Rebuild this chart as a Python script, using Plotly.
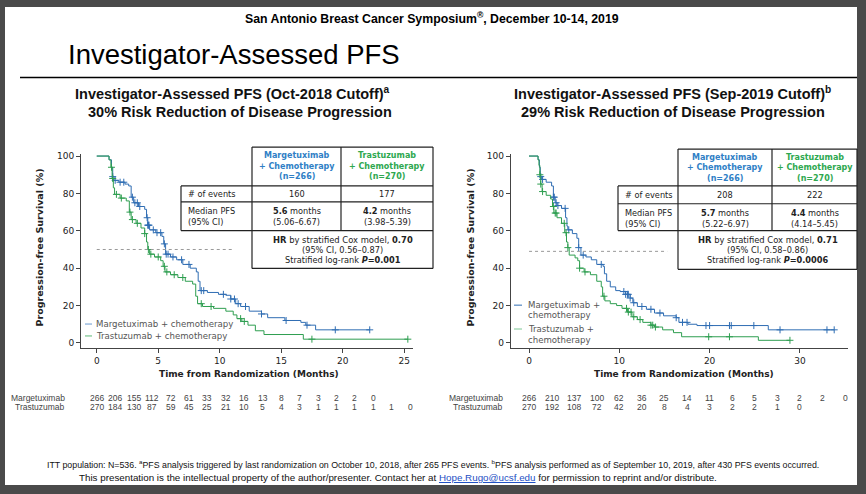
import bisect
import plotly.graph_objects as go

W, H = 866, 494

# ---- data: Oct-2018 cutoff (left) ----
m18_t = [0, 1.0, 1.2, 1.3, 1.4, 1.8, 2.3, 2.6, 2.8, 3.0, 3.4, 3.9, 4.05, 4.15, 4.3, 4.8, 5.3, 5.45,
         5.6, 6.0, 6.5, 7.0, 7.6, 8.1, 8.25, 8.4, 9.0, 9.9, 10.5, 10.9, 11.3, 11.7, 12.4, 13.4, 13.9,
         15.3, 16.6, 17.0, 17.8]
m18_s = [100, 98, 94, 89, 87, 86, 85, 84, 78, 75, 73, 71.5, 67, 63, 60.5, 59, 57, 53,
         47.5, 46, 44.5, 42, 40, 38, 33, 28, 27, 26, 25.5, 23.5, 21, 19.5, 17, 15.5, 13.5,
         12, 11, 9.5, 7]
m18_end = 22.2
m18_cens = [1.3, 1.5, 1.9, 2.2, 2.9, 3.1, 3.3, 3.5, 4.1, 4.15, 4.2, 4.25, 4.6, 4.9, 5.2, 5.5, 5.65,
            5.8, 6.2, 6.9, 7.5, 8.5, 8.7, 10.3, 10.9, 11.2, 11.5, 12.1, 13.4, 15.4, 17.1, 19.4, 22.2]

t18_t = [0, 1.0, 1.15, 1.25, 1.35, 1.45, 1.9, 2.4, 2.65, 2.8, 3.2, 3.6, 3.9, 4.05, 4.15, 4.3, 4.7,
         5.2, 5.4, 5.55, 6.0, 6.6, 7.2, 7.8, 8.05, 8.2, 8.6, 9.5, 10.5, 11.1, 11.4, 11.8, 12.3, 12.9,
         13.6, 16.8]
t18_s = [100, 98, 94, 88, 83, 79.5, 77.5, 76, 70, 66, 64, 61.5, 58.5, 54, 50, 47.5, 46,
         44, 41, 38, 36.5, 35, 33, 31.5, 25, 21, 19.5, 18.5, 17, 15, 13, 11.5, 9.5, 6.5,
         4.5, 2]
t18_end = 25.3
t18_cens = [1.2, 1.3, 1.6, 2.0, 2.7, 2.9, 3.3, 3.9, 4.2, 4.4, 5.0, 5.5, 5.7, 6.3, 7.0, 8.5, 9.3,
            11.7, 12.0, 17.5, 25.3]

# ---- data: Sep-2019 cutoff (right) ----
m19_t = [0, 1.0, 1.15, 1.25, 1.4, 1.9, 2.5, 2.7, 2.9, 3.1, 3.6, 4.05, 4.2, 4.3, 4.8, 5.3, 5.5,
         5.75, 6.3, 6.9, 7.5, 8.2, 8.35, 8.6, 9.0, 9.6, 10.1, 10.7, 11.2, 11.5, 12.0, 13.0, 13.9,
         14.9, 16.3, 16.6, 17.6, 18.6, 26.5]
m19_s = [100, 98, 94, 89, 87.5, 86, 84, 78, 75, 73.5, 72, 67, 62.5, 60.5, 58.5, 56, 51,
         47, 46, 44.5, 42, 41, 37, 33, 30, 28, 27.5, 26, 24, 21.5, 19.5, 18, 16,
         14.5, 13.5, 11, 10, 9.3, 7]
m19_end = 33.8
m19_cens = [1.3, 1.5, 2.7, 2.8, 3.0, 3.2, 4.0, 4.4, 5.5, 6.0, 8.0, 10.5, 10.7, 10.9, 11.0, 11.2,
            11.6, 12.5, 13.5, 14.5, 16.3, 17.0, 17.5, 19.6, 20.0, 22.2, 22.4, 24.9, 27.8, 33.0, 33.8]

t19_t = [0, 1.0, 1.1, 1.2, 1.3, 1.45, 1.9, 2.4, 2.6, 2.75, 3.1, 3.6, 3.95, 4.15, 4.3, 4.45, 5.1,
         5.4, 5.6, 6.1, 6.8, 7.5, 8.0, 8.15, 8.4, 9.0, 9.7, 10.3, 10.9, 11.4, 12.0, 12.6, 13.5,
         13.9, 14.8, 16.0, 16.9, 25.4]
t19_s = [100, 98, 95, 90, 85, 81, 79, 77, 73, 69.5, 67, 64, 59, 54, 51, 47, 45.5,
         44, 40, 38, 36.5, 33, 30, 25, 22.5, 21, 20, 18.5, 16.5, 14, 12.5, 11, 9.5,
         8.5, 7, 5.5, 3.3, 1.4]
t19_end = 28.9
t19_cens = [1.2, 1.3, 1.5, 2.7, 2.9, 3.0, 3.9, 4.1, 4.3, 5.6, 6.2, 8.3, 10.8, 11.0, 11.3, 11.6,
            12.3, 13.5, 13.7, 14.0, 19.9, 22.2, 28.9]

# ---- numbers at risk ----
risk_t18 = [0, 1.5, 3, 4.5, 6, 7.5, 9, 10.5, 12, 13.5, 15, 16.5, 18, 19.5, 21, 22.5, 24, 25.5]
risk_m18 = [266, 206, 155, 112, 72, 61, 33, 32, 16, 13, 8, 7, 3, 2, 2, 0]
risk_tr18 = [270, 184, 130, 87, 59, 45, 25, 21, 10, 5, 4, 3, 1, 1, 1, 1, 1, 0]
risk_t19 = [0, 2.5, 5, 7.5, 10, 12.5, 15, 17.5, 20, 22.5, 25, 27.5, 30, 32.5, 35]
risk_m19 = [266, 210, 137, 100, 62, 36, 25, 14, 11, 6, 5, 3, 2, 2, 0]
risk_tr19 = [270, 192, 108, 72, 42, 20, 8, 4, 3, 2, 2, 1, 0]

median_line = [50, 49]  # dotted reference level, left / right

BLUE = "#2f6db3"
GREEN = "#2e9e50"
HBLUE = "#2f7fc6"
HGREEN = "#2ea84f"
NARROW = "Liberation Sans Narrow, Arial Narrow, Liberation Sans, Arial"
CHART = "DejaVu Sans, Verdana, sans-serif"


def px(x):
    return x / W


def py(y):
    return 1 - y / H


def step_at(ts, ss, c):
    return ss[bisect.bisect_right(ts, c) - 1]


fig = go.Figure()


def add_curve(ts, ss, end, cens, color, xa, ya):
    fig.add_trace(go.Scatter(x=ts + [end], y=ss + [ss[-1]], mode="lines", line_shape="hv",
                             line=dict(color=color, width=1), xaxis=xa, yaxis=ya,
                             showlegend=False, hoverinfo="skip"))
    fig.add_trace(go.Scatter(x=cens, y=[step_at(ts, ss, c) for c in cens], mode="markers",
                             marker=dict(symbol="cross-thin", size=5, line=dict(color=color, width=1)),
                             xaxis=xa, yaxis=ya, showlegend=False, hoverinfo="skip"))


add_curve(m18_t, m18_s, m18_end, m18_cens, BLUE, "x", "y")
add_curve(t18_t, t18_s, t18_end, t18_cens, GREEN, "x", "y")
add_curve(m19_t, m19_s, m19_end, m19_cens, BLUE, "x2", "y2")
add_curve(t19_t, t19_s, t19_end, t19_cens, GREEN, "x2", "y2")

ax_common = dict(showline=True, linecolor="#444", linewidth=1, ticks="outside", ticklen=4,
                 tickcolor="#444", showgrid=False, zeroline=False,
                 tickfont=dict(family=CHART, size=9, color="#222"))
ydom = [py(347), py(152)]
fig.update_layout(
    width=W, height=H, margin=dict(l=0, r=0, t=0, b=0),
    paper_bgcolor="#4a4a4a", plot_bgcolor="rgba(0,0,0,0)",
    xaxis=dict(domain=[px(81), px(413)], range=[-1.28, 25.72], tickvals=[0, 5, 10, 15, 20, 25],
               anchor="y", **ax_common),
    yaxis=dict(domain=ydom, range=[-2.66, 101.06], tickvals=[0, 20, 40, 60, 80, 100],
               anchor="x", **ax_common),
    xaxis2=dict(domain=[px(510.7), px(848)], range=[-2.03, 35.33], tickvals=[0, 10, 20, 30],
                anchor="y2", **ax_common),
    yaxis2=dict(domain=ydom, range=[-2.66, 101.06], tickvals=[0, 20, 40, 60, 80, 100],
                anchor="x2", **ax_common),
)

shapes = [dict(type="rect", xref="paper", yref="paper", x0=px(5), x1=px(857), y0=py(485), y1=py(4),
               fillcolor="white", line=dict(width=0), layer="below"),
          dict(type="line", xref="paper", yref="paper", x0=px(20), x1=px(857), y0=py(75), y1=py(75),
               line=dict(color="black", width=1.5))]

# dotted median lines
shapes.append(dict(type="line", xref="x", yref="y", x0=0, x1=11.1, y0=median_line[0], y1=median_line[0],
                   line=dict(color="#999", width=1, dash="dot")))
shapes.append(dict(type="line", xref="x2", yref="y2", x0=0, x1=15.3, y0=median_line[1], y1=median_line[1],
                   line=dict(color="#999", width=1, dash="dot")))


def seg(x0, y0, x1, y1, color="#222", width=1.2):
    shapes.append(dict(type="line", xref="paper", yref="paper", x0=px(x0), x1=px(x1),
                       y0=py(y0), y1=py(y1), line=dict(color=color, width=width)))


ann = []


def text(x, y, s, size=8, color="#222", family=CHART, xanchor="center", **kw):
    ann.append(dict(x=px(x), y=py(y), xref="paper", yref="paper", text=s, showarrow=False,
                    xanchor=xanchor, yanchor="middle", font=dict(size=size, color=color, family=family),
                    **kw))


def table(lx, hx, dx, rx, top, hb, eb, mb, bot, events, med, hr):
    seg(hx, top, rx, top)
    seg(lx, hb, rx, hb)
    seg(lx, eb, rx, eb)
    seg(lx, mb, rx, mb)
    seg(hx, bot, rx, bot)
    seg(lx, hb, lx, mb)
    seg(hx, top, hx, bot)
    seg(dx, top, dx, mb)
    seg(rx, top, rx, bot)
    c1 = (hx + dx) / 2
    c2 = (dx + rx) / 2
    for i, (a, b) in enumerate([("Margetuximab", "Trastuzumab"), ("+ Chemotherapy", "+ Chemotherapy"),
                                ("(n=266)", "(n=270)")]):
        yy = top + 8 + i * 11
        text(c1, yy, f"<b>{a}</b>", size=8, color=HBLUE)
        text(c2, yy, f"<b>{b}</b>", size=8, color=HGREEN)
    text(lx + 5, (hb + eb) / 2, "# of events", size=8.2, xanchor="left")
    text(c1, (hb + eb) / 2, events[0], size=8.2)
    text(c2, (hb + eb) / 2, events[1], size=8.2)
    text(lx + 5, eb + 9, "Median PFS", size=8.2, xanchor="left")
    text(lx + 5, eb + 20, "(95% CI)", size=8.2, xanchor="left")
    text(c1, eb + 9, f"<b>{med[0]}</b> months", size=8.2)
    text(c1, eb + 20, med[1], size=8.2)
    text(c2, eb + 9, f"<b>{med[2]}</b> months", size=8.2)
    text(c2, eb + 20, med[3], size=8.2)
    hc = (hx + rx) / 2
    text(hc, mb + 9, f"<b>HR</b> by stratified Cox model, <b>{hr[0]}</b>", size=8.4)
    text(hc, mb + 19.5, f"(95% CI, {hr[1]})", size=8.2)
    text(hc, mb + 30, f"Stratified log-rank <b><i>P</i>={hr[2]}</b>", size=8.2)


table(181, 252, 341, 433, 145, 184, 200, 229, 267, ["160", "177"],
      ["5.6", "(5.06–6.67)", "4.2", "(3.98–5.39)"], ["0.70", "0.56–0.87", "0.001"])
table(618, 678, 772, 857, 147, 184, 202, 229, 268, ["208", "222"],
      ["5.7", "(5.22–6.97)", "4.4", "(4.14–5.45)"], ["0.71", "0.58–0.86", "0.0006"])

# slide texts
text(432, 15, "<b>San Antonio Breast Cancer Symposium<sup>®</sup>, December 10-14, 2019</b>", size=12.3,
     color="black", family=NARROW)
text(66, 52, "Investigator-Assessed PFS", size=27.5, color="black", family=NARROW, xanchor="left")
text(232, 91, "<b>Investigator-Assessed PFS (Oct-2018 Cutoff)<sup>a</sup></b>", size=14.5, color="#111",
     family=NARROW)
text(240, 110, "<b>30% Risk Reduction of Disease Progression</b>", size=14.5, color="#111", family=NARROW)
text(672, 91, "<b>Investigator-Assessed PFS (Sep-2019 Cutoff)<sup>b</sup></b>", size=14.5, color="#111",
     family=NARROW)
text(673, 110, "<b>29% Risk Reduction of Disease Progression</b>", size=14.5, color="#111", family=NARROW)

# axis titles
for cx in (40, 471):
    text(cx, 246, "<b>Progression-free Survival (%)</b>", size=9.5, textangle=-90)
text(249, 373, "<b>Time from Randomization (Months)</b>", size=9)
text(684, 373, "<b>Time from Randomization (Months)</b>", size=9)

# legends
seg(85, 323, 92, 323, color="#6a9ad0", width=1)
seg(85, 335, 92, 335, color="#5cb878", width=1)
text(94, 323, "Margetuximab + chemotherapy", size=8.6, color="#555", xanchor="left")
text(94, 335, "Trastuzumab + chemotherapy", size=8.6, color="#555", xanchor="left")
seg(514, 304, 522, 304, color=BLUE, width=1)
seg(514, 328, 522, 328, color="#7cc794", width=1)
text(526, 304, "Margetuximab +", size=8.6, color="#555", xanchor="left")
text(526, 314, "chemotherapy", size=8.6, color="#555", xanchor="left")
text(526, 328, "Trastuzumab +", size=8.6, color="#555", xanchor="left")
text(526, 339, "chemotherapy", size=8.6, color="#555", xanchor="left")

# numbers at risk
text(67, 397, "Margetuximab", size=8.5, color="#444", family=NARROW, xanchor="right")
text(67, 406, "Trastuzumab", size=8.5, color="#444", family=NARROW, xanchor="right")
text(505, 397, "Margetuximab", size=8.5, color="#444", family=NARROW, xanchor="right")
text(505, 406, "Trastuzumab", size=8.5, color="#444", family=NARROW, xanchor="right")
for xa, ts, rows in (("x", risk_t18, (risk_m18, risk_tr18)), ("x2", risk_t19, (risk_m19, risk_tr19))):
    for yy, vals in zip((397, 406), rows):
        for t, v in zip(ts, vals):
            ann.append(dict(x=t, y=py(yy), xref=xa, yref="paper", text=str(v), showarrow=False,
                            xanchor="center", yanchor="middle",
                            font=dict(size=8.5, color="#444", family=NARROW)))

# footnotes
text(433, 464, "ITT population: N=536. <sup>a</sup>PFS analysis triggered by last randomization on October 10, "
     "2018, after 265 PFS events. <sup>b</sup>PFS analysis performed as of September 10, 2019, after 430 PFS "
     "events occurred.", size=8.8, color="#111", family=NARROW)
text(398, 477, "This presentation is the intellectual property of the author/presenter. Contact her at "
     "<span style='color:#1d4fc4;text-decoration:underline'>Hope.Rugo@ucsf.edu</span> for permission to "
     "reprint and/or distribute.", size=9.8, color="#111", family=NARROW)

fig.update_layout(shapes=shapes, annotations=ann)
# page body has a default 8px margin; drop it so the figure sits at the window origin
fig.write_html("out.html", config={"displayModeBar": False},
               post_script="document.body.style.margin='0px';")
